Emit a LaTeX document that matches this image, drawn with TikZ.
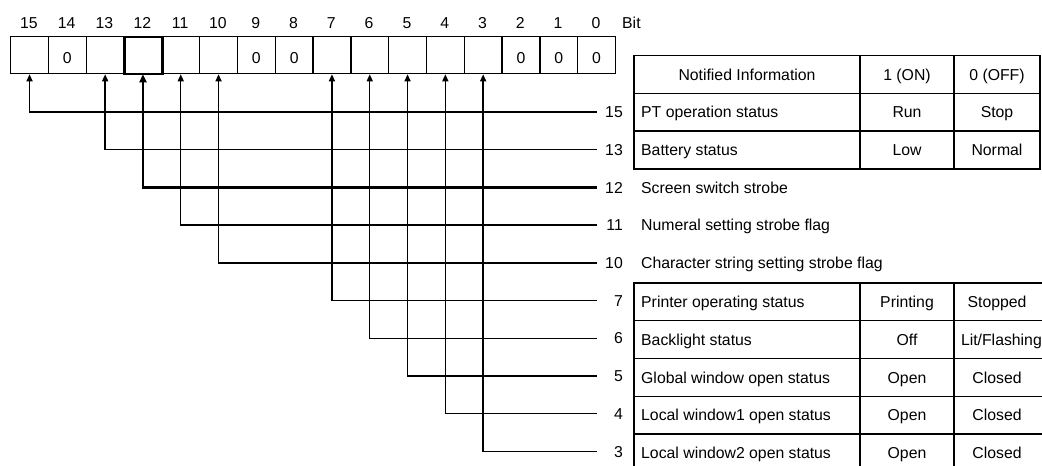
\documentclass[tikz,border=0pt]{standalone}
\usepackage{fontspec}
\setmainfont{Liberation Sans}
\usetikzlibrary{arrows.meta}
\begin{document}
\begin{tikzpicture}[x=1pt,y=-1pt,
  every node/.style={font=\fontsize{15.8}{18}\selectfont, inner sep=0pt},
  cell/.style={draw, line width=1.3pt, minimum width=37.8pt, minimum height=37pt, anchor=north west},
  wire/.style={line width=1.4pt, -{Triangle[length=7pt,width=6pt]}},
  thickwire/.style={line width=2.4pt, -{Triangle[length=8pt,width=7pt]}},
  tab/.style={line width=1.3pt},
  lbl/.style={anchor=base west, yshift=-5.7pt},
  ctr/.style={anchor=base, yshift=-5.7pt},
  num/.style={anchor=base east, yshift=-5.7pt}]
\useasboundingbox (0,0) rectangle (1042,466);
\clip (0,0) rectangle (1042,466);
% bit cells
\foreach \b in {15,...,0}{
  \pgfmathsetmacro\xl{10+37.8*(15-\b)}
  \node[cell] (c\b) at (\xl,36) {};
  \node[ctr] (h\b) at (\xl+18.9,22.5) {\b};
}
\node[lbl] (bit) at (622,22.5) {Bit};
\foreach \b in {14,9,8,2,1,0}{
  \node[ctr] (z\b) at ([yshift=-2.5pt]c\b.center) {0};
}
\node[cell, line width=2.4pt] (c12b) at (c12.north west) {};
% connectors
\foreach \b/\k in {15/0,13/1,11/3,10/4,7/5,6/6,5/7,4/8,3/9}{
  \pgfmathsetmacro\yy{112+37.7*\k}
  \node[num] (n\b) at (623,\yy) {\b};
  \coordinate (e\b) at (597,\yy);
  \draw[wire] (e\b) -| (c\b.south);
}
\node[num] (n12) at (623,187.4) {12};
\coordinate (e12) at (597,187.4);
\draw[thickwire] (e12) -| (c12.south);
% table 1
\draw[tab] (634,55.45) rectangle (1040,168.9);
\draw[tab] (634,93.15) -- (1040,93.15) (634,130.85) -- (1040,130.85)
  (860,55.45) -- (860,168.9) (954,55.45) -- (954,168.9);
\node[ctr] (t0a) at (747,74.3) {Notified Information};
\node[ctr] (t0b) at (907,74.3) {1 (ON)};
\node[ctr] (t0c) at (997,74.3) {0 (OFF)};
\node[lbl] (t15a) at (641,112) {PT operation status};
\node[ctr] (t15b) at (907,112) {Run};
\node[ctr] (t15c) at (997,112) {Stop};
\node[lbl] (t13a) at (641,149.7) {Battery status};
\node[ctr] (t13b) at (907,149.7) {Low};
\node[ctr] (t13c) at (997,149.7) {Normal};
% free rows
\node[lbl] (t12) at (641,187.4) {Screen switch strobe};
\node[lbl] (t11) at (641,225.1) {Numeral setting strobe flag};
\node[lbl] (t10) at (641,262.8) {Character string setting strobe flag};
% table 2
\draw[tab] (1050,283.1) -- (634,283.1) -- (634,475);
\draw[tab] (860,283.1) -- (860,475) (954,283.1) -- (954,475);
\foreach \yy in {320.8,358.5,396.2,433.9}{
  \draw[tab] (634,\yy) -- (1050,\yy);
}
\node[lbl] (t7a) at (641,302) {Printer operating status};
\node[ctr] (t7b) at (907,302) {Printing};
\node[ctr] (t7c) at (997,302) {Stopped};
\node[lbl] (t6a) at (641,339.7) {Backlight status};
\node[ctr] (t6b) at (907,339.7) {Off};
\node[anchor=base east, yshift=-5.7pt] (t6c) at (1042,339.7) {Lit/Flashing};
\node[lbl] (t5a) at (641,377.4) {Global window open status};
\node[ctr] (t5b) at (907,377.4) {Open};
\node[ctr] (t5c) at (997,377.4) {Closed};
\node[lbl] (t4a) at (641,415.1) {Local window1 open status};
\node[ctr] (t4b) at (907,415.1) {Open};
\node[ctr] (t4c) at (997,415.1) {Closed};
\node[lbl] (t3a) at (641,452.8) {Local window2 open status};
\node[ctr] (t3b) at (907,452.8) {Open};
\node[ctr] (t3c) at (997,452.8) {Closed};
\end{tikzpicture}
\end{document}
